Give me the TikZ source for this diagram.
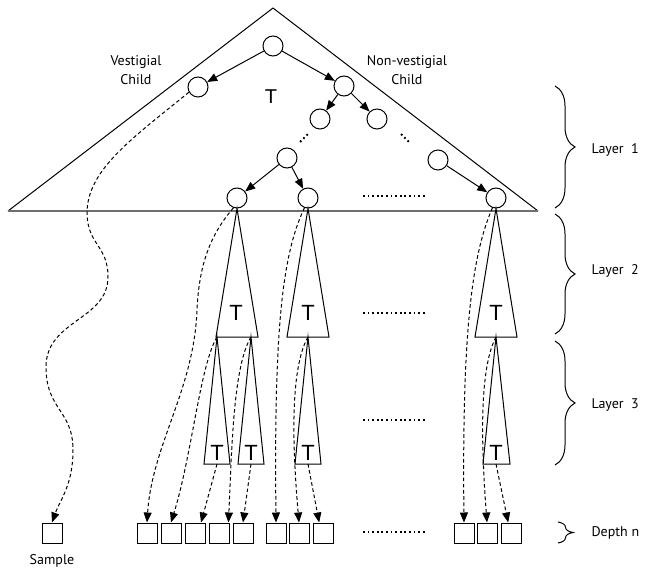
\documentclass[tikz,border=0pt]{standalone}
\usepackage{fontspec}
\setmainfont{PT Sans}
\setsansfont{Liberation Sans}
\usetikzlibrary{
    arrows.meta,
    decorations.pathreplacing
}

\begin{document}
\begin{tikzpicture}[
    x=1pt, y=-1pt,
    font=\fontsize{14}{19}\selectfont,
    nd/.style={
        draw, circle, fill=white,
        minimum size=20pt, inner sep=0pt,
        line width=1pt
    }, sq/.style={
        draw, minimum size=20pt, inner sep=0pt,
        line width=1pt
    }, tt/.style={
        font=\sffamily\fontsize{22}{22}\selectfont, inner sep=0pt
    }, pil/.style={
        -{Triangle[length=10pt,width=8pt]},
        line width=1pt
    }, dsh/.style={
        -{Triangle[length=10pt,width=8pt]},
        line width=1pt, dash pattern=on 3.6pt off 2.6pt
    }, dots/.style={
        line width=1.8pt, dash pattern=on 1.8pt off 2.8pt
    }, brc/.style={
        decorate, decoration={brace, amplitude=20pt},
        line width=1pt
    }, tri/.style={
        line width=1pt
    }]
    \definecolor{base-gray}{RGB}{110, 110, 110}

    \useasboundingbox (0,0) rectangle (651,570);

    %%% top tree T
    \draw[tri] (8,211) -- (273,8) -- (538,211);
    \draw[line width=2pt, base-gray] (8,211) -- (538,211);
    \node[tt, font=\sffamily\fontsize{20}{20}\selectfont] (top-t) at (271,97) {T};

    \node[nd] (root) at (273,46) {};
    \node[nd] (vest) at (198,87) {};
    \node[nd] (nonv) at (344,86) {};
    \node[nd] (nonv-1) at (320,119) {};
    \node[nd] (nonv-2) at (377,119) {};
    \node[nd] (mid) at (287,158) {};
    \node[nd] (far) at (438,160) {};
    \node[nd] (leaf-1) at (237,198) {};
    \node[nd] (leaf-2) at (308,198) {};
    \node[nd] (leaf-3) at (496,198) {};

    \node[align=center] (vest-lbl) at (136,70) {Vestigial\\Child};
    \node[align=center] (nonv-lbl) at (407,70) {Non-vestigial\\Child};

    \draw[pil] (root) -- (vest);
    \draw[pil] (root) -- (nonv);
    \draw[pil] (nonv) -- (nonv-1);
    \draw[pil] (nonv) -- (nonv-2);
    \draw[pil] (mid) -- (leaf-1);
    \draw[pil] (mid) -- (leaf-2);
    \draw[pil] (far) -- (leaf-3);

    \draw[dots] (300,142) -- (309,133);
    \draw[dots] (401,134) -- (410,143);

    %%% layer 2 subtrees
    \coordinate (t2-1l) at (217,337);
    \coordinate (t2-1r) at (251,337);
    \coordinate (t2-2) at (308,337);
    \coordinate (t2-3) at (496,337);
    \draw[tri] (leaf-1.south) -- (216,337) -- (258,337) -- cycle;
    \draw[tri] (leaf-2.south) -- (287,337) -- (329,337) -- cycle;
    \draw[tri] (leaf-3.south) -- (475,337) -- (517,337) -- cycle;
    \node[tt] (t2-1-t) at (236,313) {T};
    \node[tt] (t2-2-t) at (308,313) {T};
    \node[tt] (t2-3-t) at (496,313) {T};

    %%% layer 3 subtrees
    \coordinate (t3-1) at (217,464);
    \coordinate (t3-2) at (251,464);
    \coordinate (t3-3) at (308,464);
    \coordinate (t3-4) at (496,464);
    \draw[tri] (t2-1l) -- (204,464) -- (230,464) -- cycle;
    \draw[tri] (t2-1r) -- (238,464) -- (264,464) -- cycle;
    \draw[tri] (t2-2) -- (295,464) -- (321,464) -- cycle;
    \draw[tri] (t2-3) -- (483,464) -- (510,464) -- cycle;
    \node[tt] (t3-1-t) at (217,453) {T};
    \node[tt] (t3-2-t) at (251,453) {T};
    \node[tt] (t3-3-t) at (308,453) {T};
    \node[tt] (t3-4-t) at (496,453) {T};

    %%% samples at depth n
    \node[sq] (sample) at (52,533) {};
    \node (sample-lbl) at (52,561) {Sample};
    \node[sq] (sq-1) at (147,533) {};
    \node[sq] (sq-2) at (171,533) {};
    \node[sq] (sq-3) at (195,533) {};
    \node[sq] (sq-4) at (219,533) {};
    \node[sq] (sq-5) at (243,533) {};
    \node[sq] (sq-6) at (276,533) {};
    \node[sq] (sq-7) at (299,533) {};
    \node[sq] (sq-8) at (323,533) {};
    \node[sq] (sq-9) at (464,533) {};
    \node[sq] (sq-10) at (487,533) {};
    \node[sq] (sq-11) at (511,533) {};

    \draw[dots] (363,196) -- (427,196);
    \draw[dots] (363,313) -- (427,313);
    \draw[dots] (363,420) -- (427,420);
    \draw[dots] (363,532) -- (427,532);

    %%% EDGES
    \draw[dsh] (vest.210) .. controls (130,140) and (88,170) .. (87,212)
        .. controls (87,245) and (108,245) .. (108,277)
        .. controls (108,320) and (46,320) .. (46,367)
        .. controls (46,410) and (73,410) .. (73,450)
        .. controls (73,485) and (60,500) .. (sample.north);

    \draw[dsh] (leaf-1.250) .. controls (210,235) and (199,265) .. (197,310)
        .. controls (194,390) and (152,445) .. (sq-1.north);
    \draw[dsh] (t2-1l) .. controls (200,365) and (192,455) .. (sq-2.north);
    \draw[dsh] (t3-1) -- (sq-3.60);
    \draw[dsh] (t2-1r) .. controls (234,365) and (232,440) .. (sq-4.48);
    \draw[dsh] (t3-2) -- (sq-5.north);

    \draw[dsh] (leaf-2.250) .. controls (282,255) and (274,330) .. (sq-6.north);
    \draw[dsh] (t2-2) .. controls (292,365) and (291,430) .. (sq-7.north);
    \draw[dsh] (t3-3) -- (sq-8.110);

    \draw[dsh] (leaf-3.250) .. controls (472,255) and (462,330) .. (sq-9.north);
    \draw[dsh] (t2-3) .. controls (481,365) and (480,430) .. (sq-10.north);
    \draw[dsh] (t3-4) -- (sq-11.105);

    %%% braces
    \draw[brc] (555,86) -- (555,208);
    \draw[brc] (555,214) -- (555,334);
    \draw[brc] (555,341) -- (555,465);
    \draw[brc, decoration={brace, amplitude=15pt}] (558,522) -- (558,543);
    \node[anchor=west] (lay-1) at (588,150) {Layer~~1};
    \node[anchor=west] (lay-2) at (588,271) {Layer~~2};
    \node[anchor=west] (lay-3) at (588,405) {Layer~~3};
    \node[anchor=west] (dep-n) at (588,533) {Depth n};

\end{tikzpicture}
\end{document}
